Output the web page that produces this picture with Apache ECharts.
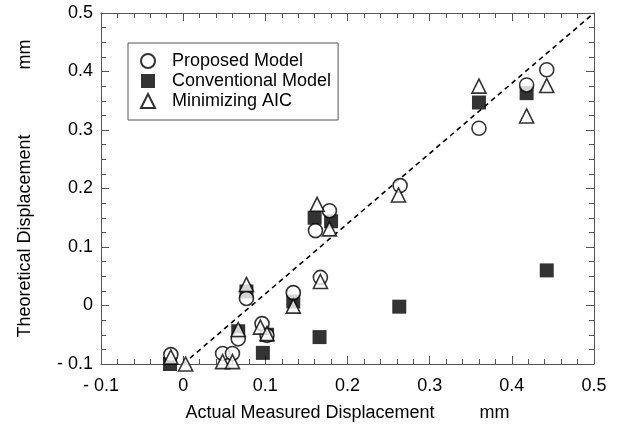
<!DOCTYPE html>
<html>
<head>
<meta charset="utf-8">
<script src="https://cdn.jsdelivr.net/npm/echarts@6/dist/echarts.min.js"></script>
<style>
html,body{margin:0;padding:0;background:#fff;}
#chart{width:617px;height:429px;}
</style>
</head>
<body>
<div id="chart"></div>
<script>
// ---- data ----
var seriesNames = ['Proposed Model', 'Conventional Model', 'Minimizing AIC'];
var proposedModel = [
  [-0.015, -0.084], [0.048, -0.082], [0.060, -0.082], [0.067, -0.057],
  [0.077, 0.012], [0.096, -0.031], [0.102, -0.051], [0.134, 0.022],
  [0.167, 0.048], [0.161, 0.128], [0.178, 0.162], [0.264, 0.205],
  [0.360, 0.303], [0.418, 0.377], [0.4425, 0.403]
];
var conventionalModel = [
  [-0.016, -0.100], [0.000, -0.104], [0.067, -0.044], [0.077, 0.024],
  [0.097, -0.081], [0.102, -0.050], [0.134, 0.007], [0.166, -0.054],
  [0.160, 0.150], [0.180, 0.144], [0.263, -0.002], [0.360, 0.347],
  [0.418, 0.363], [0.4425, 0.060]
];
var minimizingAIC = [
  [-0.015, -0.088], [0.003, -0.100], [0.048, -0.096], [0.060, -0.096],
  [0.067, -0.041], [0.077, 0.036], [0.094, -0.037], [0.102, -0.048],
  [0.134, -0.001], [0.167, 0.041], [0.163, 0.173], [0.178, 0.131],
  [0.262, 0.189], [0.360, 0.375], [0.418, 0.324], [0.4425, 0.376]
];
var referenceLine = [[0, -0.1], [0.5, 0.5]];
var xTickLabels = ['- 0.1', '0', '0.1', '0.2', '0.3', '0.4', '0.5'];
var yTickLabels = ['- 0.1', '0', '0.1', '0.2', '0.3', '0.4', '0.5'];
var xAxisTitle = 'Actual Measured Displacement         mm';
var yAxisTitle = 'Theoretical Displacement             mm';

// ---- chart ----
var FONT = 'Liberation Sans, Arial, sans-serif';
var AXIS_COLOR = '#555';
var axisMin = -0.1, axisMax = 0.5, axisStep = 0.1;
function tickFmt(labels) {
  return function (v) {
    var i = Math.round((v - axisMin) / axisStep);
    return labels[i] !== undefined ? labels[i] : '';
  };
}
function baseAxis(extra) {
  var a = {
    type: 'value', min: axisMin, max: axisMax, interval: axisStep,
    axisLine: {show: true, onZero: false, lineStyle: {color: AXIS_COLOR, width: 1}},
    axisTick: {show: true, inside: true, length: 8, lineStyle: {color: AXIS_COLOR, width: 1}},
    minorTick: {show: true, length: 5, lineStyle: {color: AXIS_COLOR, width: 1}},
    splitLine: {show: false},
    minorSplitLine: {show: false}
  };
  for (var k in extra) a[k] = extra[k];
  return a;
}
var chart = echarts.init(document.getElementById('chart'), null, {renderer: 'canvas'});
var option = {
  backgroundColor: '#fff',
  animation: false,
  textStyle: {fontFamily: FONT},
  grid: {left: 101, right: 23, top: 13, bottom: 65, containLabel: false},
  legend: {
    orient: 'vertical', left: 128, top: 43,
    data: seriesNames,
    borderColor: AXIS_COLOR, borderWidth: 1, borderRadius: 0,
    padding: [9, 7, 10, 12],
    itemWidth: 14, itemHeight: 14, itemGap: 2,
    textStyle: {fontFamily: FONT, fontSize: 18, color: '#000', lineHeight: 18, padding: [0, 0, 0, 12]}
  },
  xAxis: [
    baseAxis({
      position: 'bottom',
      minorTick: {show: true, splitNumber: 5, length: 5, lineStyle: {color: AXIS_COLOR, width: 1}},
      axisLabel: {show: true, margin: 13, fontSize: 18, color: '#000', fontFamily: FONT, formatter: tickFmt(xTickLabels)},
      name: xAxisTitle, nameLocation: 'middle', nameGap: 40,
      nameTextStyle: {fontSize: 18, color: '#000', fontFamily: FONT}
    }),
    baseAxis({
      position: 'top',
      minorTick: {show: true, splitNumber: 5, length: 5, lineStyle: {color: AXIS_COLOR, width: 1}},
      axisLabel: {show: false}
    })
  ],
  yAxis: [
    baseAxis({
      position: 'left',
      minorTick: {show: true, splitNumber: 4, length: 5, lineStyle: {color: AXIS_COLOR, width: 1}},
      axisLabel: {show: true, margin: 8, fontSize: 18, color: '#000', fontFamily: FONT, formatter: tickFmt(yTickLabels)},
      name: yAxisTitle, nameLocation: 'middle', nameGap: 67, nameRotate: 90,
      nameTextStyle: {fontSize: 18, color: '#000', fontFamily: FONT}
    }),
    baseAxis({
      position: 'right',
      minorTick: {show: true, splitNumber: 4, length: 5, lineStyle: {color: AXIS_COLOR, width: 1}},
      axisLabel: {show: false}
    })
  ],
  series: [
    {
      type: 'line', data: referenceLine, xAxisIndex: 0, yAxisIndex: 0,
      symbol: 'none', silent: true, legendHoverLink: false,
      lineStyle: {color: '#000', width: 1.6, type: [5, 4]}, z: 1
    },
    {
      name: 'Conventional Model', type: 'scatter', data: conventionalModel,
      symbol: 'rect', symbolSize: 14,
      itemStyle: {color: '#000', borderColor: '#000', borderWidth: 0}, z: 2
    },
    {
      name: 'Proposed Model', type: 'scatter', data: proposedModel,
      symbol: 'circle', symbolSize: 14,
      itemStyle: {color: '#fff', borderColor: '#000', borderWidth: 1.6}, z: 3
    },
    {
      name: 'Minimizing AIC', type: 'scatter', data: minimizingAIC,
      symbol: 'triangle', symbolSize: 14,
      itemStyle: {color: '#fff', borderColor: '#000', borderWidth: 1.6}, z: 4
    }
  ]
};
chart.setOption(option);
</script>
</body>
</html>
